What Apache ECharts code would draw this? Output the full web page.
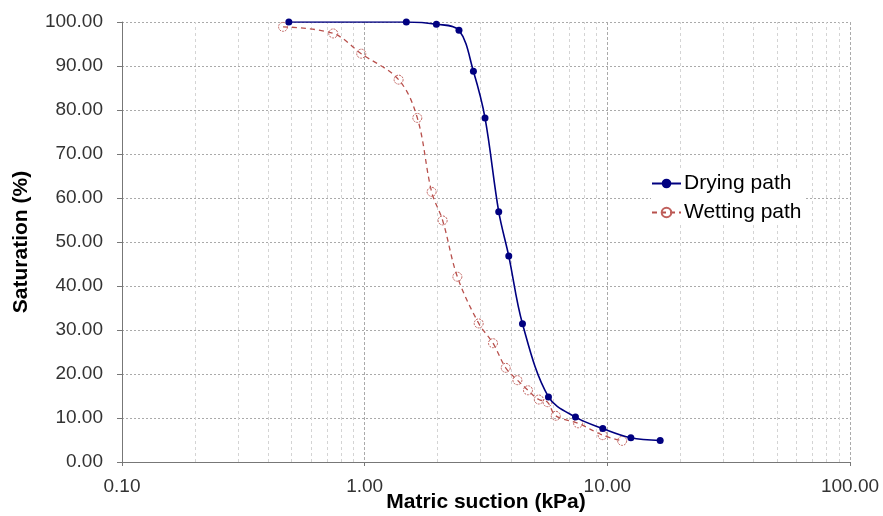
<!DOCTYPE html>
<html>
<head>
<meta charset="utf-8">
<script src="https://cdn.jsdelivr.net/npm/echarts@6/dist/echarts.min.js"></script>
<style>
  html, body { margin: 0; padding: 0; background: #fff; }
  #chart { width: 883px; height: 516px; }
</style>
</head>
<body>
<div id="chart"></div>
<script>
// 干燥/湿润路径：基质吸力 (kPa) vs 饱和度 (%)
const dryingSuction = [0.487, 1.485, 1.975, 2.447, 2.806, 3.133, 3.568, 3.925, 4.47, 5.72, 7.39, 9.58, 12.5, 16.51];
const dryingSat     = [100.0, 100.0, 99.5, 98.1, 88.8, 78.2, 56.9, 46.8, 31.4, 14.8, 10.2, 7.6, 5.5, 4.9];

const wettingSuction = [0.461, 0.742, 0.968, 1.38, 1.648, 1.888, 2.096, 2.41, 2.951, 3.38, 3.813, 4.26, 4.71, 5.22, 5.67, 6.13, 7.58, 9.56, 11.51];
const wettingSat     = [98.9, 97.4, 92.8, 86.9, 78.2, 61.4, 54.9, 42.1, 31.5, 27.0, 21.4, 18.6, 16.3, 14.2, 13.6, 10.5, 8.8, 6.1, 4.8];

// 对数轴次网格线位置
const minorGrid = [0.2, 0.3, 0.4, 0.5, 0.6, 0.7, 0.8, 0.9, 2, 3, 4, 5, 6, 7, 8, 9, 20, 30, 40, 50, 60, 70, 80, 90];

const FONT = "Arial, 'Liberation Sans', sans-serif";

const chart = echarts.init(document.getElementById("chart"));
chart.setOption({
  backgroundColor: "#fff",
  animation: false,
  textStyle: { fontFamily: FONT },
  grid: { left: 122, right: 33, top: 22, bottom: 54, containLabel: false, outerBoundsMode: "none" },
  legend: {
    orient: "vertical", left: 651, top: 171,
    itemWidth: 29, itemHeight: 12, itemGap: 8,
    backgroundColor: "#fff", padding: [2, 4, 2, 0],
    textStyle: { fontSize: 21, color: "#000", fontFamily: FONT, padding: [0, 0, 0, -2] },
    data: ["Drying path", "Wetting path"],
  },
  xAxis: {
    type: "log", logBase: 10, min: 0.1, max: 100,
    name: "Matric suction (kPa)", nameLocation: "middle", nameGap: 30, nameMoveOverlap: false,
    nameTextStyle: { fontSize: 21, fontWeight: "bold", color: "#000", fontFamily: FONT },
    axisLine: { lineStyle: { color: "#777", width: 1 } },
    axisTick: { show: true, length: 4, lineStyle: { color: "#777" } },
    axisLabel: { fontSize: 19, color: "#333", margin: 15, formatter: v => (+v).toFixed(2) },
    splitLine: { show: true, lineStyle: { color: "#aaa", type: [3, 2], width: 1 } },
  },
  yAxis: {
    type: "value", min: 0, max: 100, interval: 10,
    name: "Saturation (%)", nameLocation: "middle", nameGap: 90, nameMoveOverlap: false,
    nameTextStyle: { fontSize: 21, fontWeight: "bold", color: "#000", fontFamily: FONT },
    axisLine: { show: true, lineStyle: { color: "#777", width: 1 } },
    axisTick: { show: true, length: 5, lineStyle: { color: "#777" } },
    axisLabel: { fontSize: 19, color: "#333", margin: 19, formatter: v => (+v).toFixed(2) },
    splitLine: { show: true, lineStyle: { color: "#aaa", type: [2, 2], width: 1 } },
  },
  series: [
    {
      name: "Drying path", type: "line", smooth: 0.35,
      data: dryingSuction.map((x, i) => [x, dryingSat[i]]),
      symbol: "circle", symbolSize: 7,
      lineStyle: { color: "#000080", width: 1.6 },
      itemStyle: { color: "#000080" },
      z: 3,
      markLine: {
        silent: true, symbol: "none", animation: false,
        label: { show: false },
        lineStyle: { color: "#d4d4d4", type: [3, 3], width: 1 },
        data: minorGrid.map(v => ({ xAxis: v })),
        z: 1,
      },
    },
    {
      name: "Wetting path", type: "line", smooth: 0.35,
      data: wettingSuction.map((x, i) => [x, wettingSat[i]]),
      symbol: "circle", symbolSize: 9,
      lineStyle: { color: "#b8504c", width: 1.3, type: [5, 4] },
      itemStyle: { color: "rgba(255,255,255,0)", borderColor: "#c0605c", borderWidth: 1, borderType: [2, 1] },
      z: 2,
    },
  ],
});
</script>
</body>
</html>
